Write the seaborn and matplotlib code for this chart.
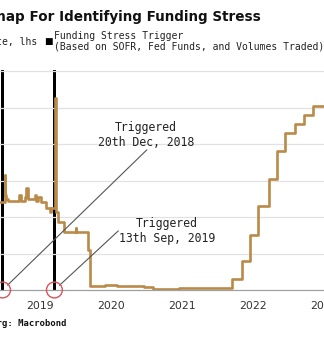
import matplotlib
matplotlib.use("Agg")
import matplotlib.pyplot as plt
import matplotlib.dates as mdates
import seaborn as sns
import pandas as pd

# ---------------- data ----------------
sofr_dates = ["2018-12-07", "2018-12-31", "2019-01-02", "2019-01-08", "2019-01-16",
              "2019-03-15", "2019-03-27", "2019-04-12", "2019-04-20", "2019-05-01",
              "2019-05-20", "2019-06-05", "2019-06-12", "2019-06-22", "2019-07-05",
              "2019-07-31", "2019-08-20", "2019-08-28", "2019-09-17", "2019-09-19",
              "2019-10-02", "2019-10-31", "2019-12-31", "2020-01-02", "2020-03-04",
              "2020-03-16", "2020-04-15", "2020-06-01", "2020-08-01", "2020-10-01",
              "2020-12-15", "2021-02-01", "2021-06-17", "2022-03-17", "2022-05-05",
              "2022-06-16", "2022-07-28", "2022-09-22", "2022-11-03", "2022-12-15",
              "2023-02-02", "2023-03-23", "2023-05-04", "2023-06-30"]
sofr_values = [2.40, 3.15, 2.60, 2.50, 2.45,
               2.60, 2.45, 2.55, 2.80, 2.50,
               2.50, 2.60, 2.45, 2.55, 2.40,
               2.25, 2.15, 2.25, 5.25, 2.15,
               1.85, 1.60, 1.70, 1.58, 1.10,
               0.10, 0.12, 0.15, 0.12, 0.10,
               0.08, 0.03, 0.05, 0.30, 0.80,
               1.50, 2.30, 3.05, 3.80, 4.30,
               4.55, 4.80, 5.05, 5.05]

trigger_dates = ["2018-12-20", "2019-09-13"]
trigger_values = [1, 1]
trigger_labels = ["Triggered\n20th Dec, 2018", "Triggered\n13th Sep, 2019"]
label_anchor_dates = ["2021-01-01", "2020-08-07"]
label_anchor_values = [3.84, 1.62]
label_text_dates = ["2020-12-26", "2021-04-15"]
label_text_values = [4.25, 1.62]

year_labels = ["2019", "2020", "2021", "2022", "2023"]

title = "A Roadmap For Identifying Funding Stress"
legend_line = "SOFR Rate, lhs"
legend_bar = "Funding Stress Trigger\n(Based on SOFR, Fed Funds, and Volumes Traded)"
source = "Source: Bloomberg: Macrobond"

# ---------------- style ----------------
sns.set_style("white")
gold = "#B98A48"
mono = "DejaVu Sans Mono"

fig = plt.figure(figsize=(3.24, 3.40), dpi=100)
W, H = 324, 340

def fx(px):
    return px / W

def fy(py):
    return 1 - py / H

ax_top, ax_bot = 62, 290
ax = fig.add_axes([0, fy(ax_bot), 1, (ax_bot - ax_top) / H])
ax2 = ax.twinx()

df = pd.DataFrame({"date": pd.to_datetime(sofr_dates), "sofr": sofr_values})
tf = pd.DataFrame({"date": pd.to_datetime(trigger_dates), "trig": trigger_values})

# trigger bars (secondary axis)
ax2.bar(tf["date"], tf["trig"], width=12, color="black", align="center", linewidth=0)
ax2.set_ylim(0, 1.036)
ax2.set_yticks([])
for s in ax2.spines.values():
    s.set_visible(False)

# SOFR line (primary axis, drawn above the bars)
ax.set_zorder(ax2.get_zorder() + 1)
ax.patch.set_visible(False)
sns.lineplot(data=df, x="date", y="sofr", ax=ax, color=gold, linewidth=1.9,
             drawstyle="steps-post", legend=False, estimator=None)

ppy = 72.5  # pixels per year
x0 = pd.Timestamp("2019-01-01")
xl = x0 - pd.Timedelta(days=5 / ppy * 365.25)
xr = x0 + pd.Timedelta(days=(W - 5) / ppy * 365.25)
ax.set_xlim(xl, xr)
ax2.set_xlim(xl, xr)
ax.set_ylim(0, (ax_bot - ax_top) / 36.5)
ax.set_yticks([1, 2, 3, 4, 5, 6])
ax.set_yticklabels([])
ax.tick_params(axis="y", length=0)
ax.grid(axis="y", color="#E2E2E2", linewidth=0.9)
ax.grid(axis="x", visible=False)
ax.set_xlabel("")
ax.set_ylabel("")
for s in ["left", "right", "top"]:
    ax.spines[s].set_visible(False)
ax.spines["bottom"].set_color("#A0A0A0")
ax.spines["bottom"].set_linewidth(0.9)

# x ticks: year boundaries as small ticks, labels at mid-year
ax.xaxis.set_major_locator(mdates.YearLocator())
ax.xaxis.set_major_formatter(plt.NullFormatter())
mid = [pd.Timestamp(f"{y}-07-02") for y in year_labels]
ax.set_xticks(mid, minor=True)
ax.set_xticklabels(year_labels, minor=True)
ax.tick_params(axis="x", which="major", length=3, color="#BBBBBB", width=0.8)
ax.tick_params(axis="x", which="minor", length=0, pad=8, labelsize=7.8, labelcolor="#333333")

# circles at trigger points
ax.scatter(tf["date"], [0] * len(tf), s=130, facecolors="none", edgecolors="#D9535B",
           linewidths=1.0, clip_on=False, zorder=5)

# annotation lines and text
for d, lab, ad, av, td, tv in zip(tf["date"], trigger_labels, label_anchor_dates,
                                  label_anchor_values, label_text_dates, label_text_values):
    ax.annotate("", xy=(d, 0), xytext=(pd.Timestamp(ad), av),
                arrowprops=dict(arrowstyle="-", color="#555555", lw=0.8,
                                shrinkA=0, shrinkB=5))
    ax.text(pd.Timestamp(td), tv, lab, ha="center", va="center", family=mono,
            fontsize=8.3, color="#222222", linespacing=1.15)

# title, legend, source
fig.text(fx(261), fy(17), title, ha="right", va="center", fontsize=9.75,
         fontweight="bold", color="#111111")
fig.text(fx(37), fy(41.5), legend_line, ha="right", va="center", family=mono,
         fontsize=7.0, color="#222222")
fig.text(fx(44), fy(41.5), "\u25A0", ha="left", va="center", fontsize=6.5, color="black")
fig.text(fx(54), fy(41.5), legend_bar, ha="left", va="center", family=mono,
         fontsize=7.0, color="#222222", linespacing=1.1)
fig.text(fx(66), fy(323), source, ha="right", va="center", family=mono,
         fontsize=6.4, fontweight="bold", color="#111111")

fig.savefig("out.png", dpi=100)
